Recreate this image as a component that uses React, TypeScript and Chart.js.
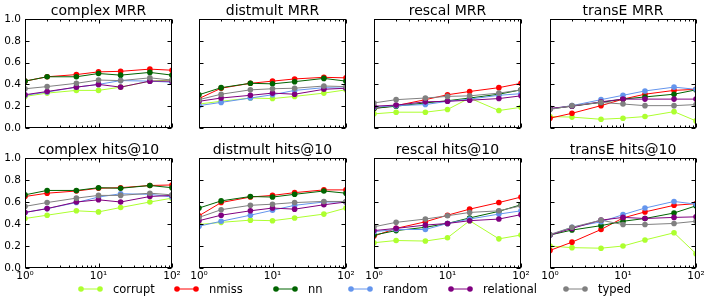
import React, { useEffect, useRef } from 'react';
import { Chart, registerables } from 'chart.js';
Chart.register(...registerables);

const xValues = [1, 2, 5, 10, 20, 50, 100];
const seriesNames = ['corrupt', 'nmiss', 'nn', 'random', 'relational', 'typed'];
const seriesColors = ['#adff2f', '#ff0000', '#006400', '#6495ed', '#800080', '#808080'];
const xTickValues = [1, 10, 100];
const xTickLabels = ['10⁰', '10¹', '10²'];
const yTickValues = [0, 0.2, 0.4, 0.6, 0.8, 1.0];

// each panel: rows in seriesNames order, values at xValues
const complexMRR = [
  [0.29, 0.32, 0.345, 0.345, 0.375, 0.43, 0.44],
  [0.43, 0.47, 0.49, 0.515, 0.52, 0.54, 0.53],
  [0.43, 0.47, 0.47, 0.50, 0.485, 0.51, 0.485],
  [0.30, 0.33, 0.375, 0.40, 0.435, 0.43, 0.42],
  [0.305, 0.335, 0.375, 0.40, 0.375, 0.43, 0.43],
  [0.36, 0.38, 0.41, 0.44, 0.435, 0.46, 0.44],
];
const distmultMRR = [
  [0.22, 0.245, 0.275, 0.27, 0.29, 0.32, 0.35],
  [0.27, 0.365, 0.41, 0.43, 0.45, 0.465, 0.46],
  [0.305, 0.37, 0.41, 0.405, 0.425, 0.455, 0.43],
  [0.205, 0.235, 0.275, 0.305, 0.345, 0.37, 0.365],
  [0.245, 0.275, 0.30, 0.32, 0.31, 0.355, 0.365],
  [0.26, 0.31, 0.35, 0.36, 0.365, 0.385, 0.38],
];
const rescalMRR = [
  [0.13, 0.145, 0.145, 0.17, 0.275, 0.16, 0.19],
  [0.18, 0.205, 0.26, 0.305, 0.335, 0.37, 0.41],
  [0.18, 0.20, 0.23, 0.25, 0.275, 0.31, 0.35],
  [0.19, 0.205, 0.215, 0.245, 0.265, 0.30, 0.315],
  [0.20, 0.21, 0.24, 0.245, 0.255, 0.27, 0.295],
  [0.23, 0.26, 0.275, 0.29, 0.295, 0.32, 0.35],
];
const transEMRR = [
  [0.105, 0.10, 0.08, 0.09, 0.105, 0.15, 0.065],
  [0.09, 0.135, 0.205, 0.265, 0.31, 0.345, 0.355],
  [0.175, 0.20, 0.235, 0.265, 0.285, 0.31, 0.35],
  [0.175, 0.205, 0.26, 0.30, 0.34, 0.375, 0.355],
  [0.18, 0.20, 0.24, 0.265, 0.265, 0.265, 0.265],
  [0.17, 0.205, 0.235, 0.22, 0.205, 0.205, 0.215],
];
const complexHits = [
  [0.45, 0.48, 0.52, 0.51, 0.55, 0.60, 0.635],
  [0.65, 0.68, 0.70, 0.725, 0.73, 0.75, 0.755],
  [0.665, 0.705, 0.705, 0.73, 0.725, 0.75, 0.73],
  [0.505, 0.54, 0.595, 0.645, 0.675, 0.67, 0.645],
  [0.505, 0.54, 0.60, 0.62, 0.60, 0.65, 0.66],
  [0.56, 0.595, 0.635, 0.66, 0.66, 0.68, 0.665],
];
const distmultHits = [
  [0.395, 0.415, 0.435, 0.43, 0.455, 0.49, 0.545],
  [0.475, 0.595, 0.645, 0.66, 0.685, 0.71, 0.71],
  [0.545, 0.61, 0.65, 0.645, 0.67, 0.70, 0.68],
  [0.38, 0.425, 0.48, 0.525, 0.57, 0.60, 0.60],
  [0.43, 0.48, 0.52, 0.545, 0.535, 0.575, 0.60],
  [0.46, 0.53, 0.57, 0.58, 0.595, 0.605, 0.605],
];
const rescalHits = [
  [0.23, 0.25, 0.245, 0.275, 0.43, 0.265, 0.30],
  [0.29, 0.36, 0.42, 0.48, 0.535, 0.595, 0.645],
  [0.30, 0.34, 0.37, 0.405, 0.455, 0.515, 0.575],
  [0.33, 0.35, 0.35, 0.405, 0.445, 0.49, 0.52],
  [0.34, 0.36, 0.39, 0.405, 0.43, 0.445, 0.485],
  [0.375, 0.415, 0.445, 0.475, 0.505, 0.52, 0.565],
];
const transEHits = [
  [0.20, 0.185, 0.18, 0.20, 0.255, 0.32, 0.13],
  [0.16, 0.235, 0.35, 0.455, 0.51, 0.57, 0.585],
  [0.30, 0.345, 0.385, 0.425, 0.45, 0.50, 0.565],
  [0.30, 0.37, 0.42, 0.485, 0.545, 0.605, 0.58],
  [0.30, 0.36, 0.435, 0.46, 0.45, 0.46, 0.465],
  [0.305, 0.37, 0.435, 0.395, 0.395, 0.405, 0.425],
];

const panelTitles = [
  ['complex MRR', 'distmult MRR', 'rescal MRR', 'transE MRR'],
  ['complex hits@10', 'distmult hits@10', 'rescal hits@10', 'transE hits@10'],
];
const panelData = [
  [complexMRR, distmultMRR, rescalMRR, transEMRR],
  [complexHits, distmultHits, rescalHits, transEHits],
];

const colLeft = [25, 199, 374, 550];
const colWidth = [147, 147, 147, 146];
const rowTop = [19, 158];
const rowHeight = [109, 110];
const LEFT_M = 30;
const RIGHT_M = 14;
const TOP_M = 19;
const BOTTOM_M = 16;
const FONT = '"DejaVu Sans", sans-serif';

const framePlugin = {
  id: 'frameTicks',
  afterDatasetsDraw(chart: any) {
    const { ctx, chartArea: a, scales } = chart;
    const xs = scales.x;
    const ys = scales.y;
    ctx.save();
    ctx.strokeStyle = '#000';
    ctx.lineWidth = 1;
    const L = Math.round(a.left) + 0.5;
    const R = Math.round(a.right) - 0.5;
    const T = Math.round(a.top) + 0.5;
    const B = Math.round(a.bottom) - 0.5;
    ctx.beginPath();
    for (const v of yTickValues) {
      const y = Math.round(ys.getPixelForValue(v)) + 0.5;
      ctx.moveTo(L, y); ctx.lineTo(L + 4, y);
      ctx.moveTo(R, y); ctx.lineTo(R - 4, y);
    }
    for (const v of xTickValues) {
      const x = Math.round(xs.getPixelForValue(v)) + 0.5;
      ctx.moveTo(x, B); ctx.lineTo(x, B - 4);
      ctx.moveTo(x, T); ctx.lineTo(x, T + 4);
    }
    for (const d of [1, 10]) {
      for (let k = 2; k <= 9; k++) {
        const x = Math.round(xs.getPixelForValue(d * k)) + 0.5;
        ctx.moveTo(x, B); ctx.lineTo(x, B - 2);
        ctx.moveTo(x, T); ctx.lineTo(x, T + 2);
      }
    }
    ctx.stroke();
    ctx.strokeRect(L, T, R - L, B - T);
    ctx.restore();
  },
};

const titlePlugin = {
  id: 'panelTitle',
  afterDraw(chart: any, _args: any, opts: any) {
    const { ctx, chartArea: a } = chart;
    ctx.save();
    ctx.fillStyle = '#000';
    ctx.font = `14px ${FONT}`;
    ctx.textAlign = 'center';
    ctx.textBaseline = 'alphabetic';
    ctx.fillText(opts.text, (a.left + a.right) / 2, a.top - 4);
    ctx.restore();
  },
};

function Panel({ row, col }: { row: number; col: number }) {
  const ref = useRef<HTMLCanvasElement>(null);
  const w = LEFT_M + colWidth[col] + RIGHT_M;
  const h = TOP_M + rowHeight[row] + BOTTOM_M;
  useEffect(() => {
    const values = panelData[row][col];
    const chart = new Chart(ref.current as HTMLCanvasElement, {
      type: 'line',
      data: {
        datasets: seriesNames.map((name, i) => ({
          label: name,
          data: xValues.map((x, j) => ({ x, y: values[i][j] })),
          borderColor: seriesColors[i],
          backgroundColor: seriesColors[i],
          borderWidth: 1,
          pointRadius: 2.8,
          pointBorderWidth: 0,
          pointHoverRadius: 2.8,
          order: seriesNames.length - i,
          tension: 0,
        })),
      },
      options: {
        animation: false,
        responsive: false,
        maintainAspectRatio: false,
        events: [],
        layout: { padding: { left: 0, right: RIGHT_M, top: TOP_M, bottom: 0 } },
        plugins: {
          legend: { display: false },
          tooltip: { enabled: false },
          title: { display: false },
          panelTitle: { text: panelTitles[row][col] },
        },
        scales: {
          x: {
            type: 'logarithmic',
            min: 1,
            max: 100,
            grid: { display: false, drawTicks: false },
            border: { display: false },
            afterBuildTicks: (s: any) => {
              s.ticks = xTickValues.map((v) => ({ value: v }));
            },
            afterFit: (s: any) => {
              s.height = BOTTOM_M;
              s.paddingLeft = 0;
              s.paddingRight = 0;
            },
            ticks: {
              display: row === 1,
              autoSkip: false,
              maxRotation: 0,
              minRotation: 0,
              padding: 2,
              color: '#000',
              font: { family: FONT, size: 10.5 },
              callback: (v: any) => {
                const idx = xTickValues.indexOf(Number(v));
                return idx >= 0 ? xTickLabels[idx] : '';
              },
            },
          },
          y: {
            min: 0,
            max: 1,
            grid: { display: false, drawTicks: false },
            border: { display: false },
            afterBuildTicks: (s: any) => {
              s.ticks = yTickValues.map((v) => ({ value: v }));
            },
            afterFit: (s: any) => {
              s.width = LEFT_M;
              s.paddingTop = 0;
              s.paddingBottom = 0;
            },
            ticks: {
              display: col === 0,
              padding: 4,
              color: '#000',
              font: { family: FONT, size: 10.5 },
              callback: (v: any) => Number(v).toFixed(1),
            },
          },
        },
      },
      plugins: [framePlugin, titlePlugin],
    } as any);
    return () => chart.destroy();
  }, [row, col]);
  return (
    <canvas
      ref={ref}
      width={w}
      height={h}
      style={{
        position: 'absolute',
        left: colLeft[col] - LEFT_M,
        top: rowTop[row] - TOP_M,
        width: w,
        height: h,
      }}
    />
  );
}

const legendLineX = [81, 177, 276, 351, 451, 566];

function Legend() {
  return (
    <>
      {seriesNames.map((name, i) => (
        <div
          key={name}
          style={{
            position: 'absolute',
            left: legendLineX[i] - 3,
            top: 282,
            height: 14,
            display: 'flex',
            alignItems: 'center',
            fontFamily: FONT,
            fontSize: 11.5,
            color: '#000',
            whiteSpace: 'nowrap',
          }}
        >
          <svg width={26} height={10} style={{ marginRight: 9 }}>
            <line x1={3} y1={5} x2={22} y2={5} stroke={seriesColors[i]} strokeWidth={1} />
            <circle cx={3} cy={5} r={2.8} fill={seriesColors[i]} />
            <circle cx={22} cy={5} r={2.8} fill={seriesColors[i]} />
          </svg>
          <span>{name}</span>
        </div>
      ))}
    </>
  );
}

export default function App() {
  return (
    <div style={{ position: 'absolute', left: 0, top: 0, width: 711, height: 296, background: '#fff', overflow: 'hidden' }}>
      {[0, 1].map((r) => [0, 1, 2, 3].map((c) => <Panel key={`${r}-${c}`} row={r} col={c} />))}
      <Legend />
    </div>
  );
}
